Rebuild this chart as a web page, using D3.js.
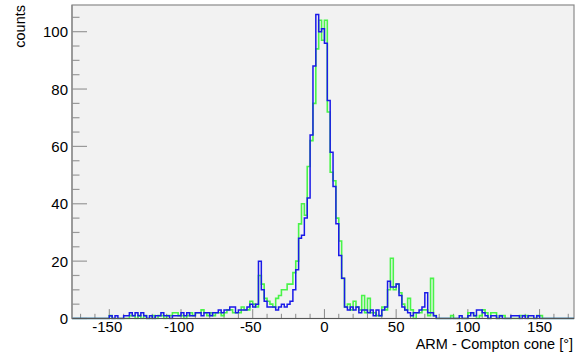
<!DOCTYPE html>
<html>
<head>
<meta charset="utf-8">
<script src="https://cdn.jsdelivr.net/npm/d3@7"></script>
<style>
  body { margin: 0; background: #fff; }
  svg text { font-family: "Liberation Sans", Arial, sans-serif; fill: #000; }
</style>
</head>
<body>
<script>
// ----- Data (2 degree bins, first bin starts at -176) -----
const binStart = -176;
const binWidth = 2;

const greenCounts = [
  0, 0, 0, 0, 0, 0, 0, 0, 0, 0, 0, 0,            // -176 .. -154
  0, 1, 0, 0, 0, 0, 0, 0, 1, 1, 0, 1,            // -152 .. -130
  0, 1, 0, 0, 1, 0, 1, 1, 0, 1, 1, 2,            // -128 .. -106
  2, 1, 1, 0, 1, 2, 1, 2, 2, 3, 2, 1,            // -104 .. -82
  2, 1, 2, 2, 1, 2, 3, 3, 2, 2, 2, 4,            // -80 .. -58
  3, 3, 6, 5, 4, 15, 12, 7, 6, 5, 4, 7,          // -56 .. -34
  8, 10, 10, 12, 12, 16, 20, 33, 40, 36, 53, 62, // -32 .. -10
  75, 94, 104, 97, 104, 72, 51, 48, 35, 27, 14, 4, // -8 .. 14
  5, 3, 6, 4, 3, 8, 2, 7, 2, 2, 1, 1,            // 16 .. 38
  4, 3, 10, 21, 10, 12, 9, 5, 3, 7, 3, 0,        // 40 .. 62
  2, 2, 3, 3, 1, 14, 1, 0, 0, 0, 0, 0,           // 64 .. 86
  1, 0, 0, 0, 0, 0, 2, 2, 1, 0, 1, 3,            // 88 .. 110
  2, 0, 2, 2, 0, 1, 1, 0, 0, 0, 0, 0,            // 112 .. 134
  1, 1, 1, 0, 0, 0, 1, 1, 0, 0, 0, 0,            // 136 .. 158
  0, 0, 0, 0, 0, 0, 0                            // 160 .. 172
];

const blueCounts = [
  0, 0, 0, 0, 0, 0, 0, 0, 0, 0, 0, 0,            // -176 .. -154
  0, 1, 0, 1, 0, 0, 1, 1, 2, 1, 2, 1,            // -152 .. -130
  2, 1, 0, 1, 0, 1, 1, 2, 1, 1, 0, 1,            // -128 .. -106
  1, 1, 2, 1, 2, 1, 1, 2, 2, 1, 2, 2,            // -104 .. -82
  1, 2, 2, 3, 2, 3, 3, 4, 4, 2, 3, 3,            // -80 .. -58
  3, 4, 5, 4, 5, 20, 10, 6, 4, 4, 4, 3,          // -56 .. -34
  4, 5, 4, 5, 6, 10, 17, 28, 29, 35, 42, 64,     // -32 .. -10
  88, 106, 100, 101, 96, 76, 58, 46, 33, 22, 14, 4, // -8 .. 14
  3, 4, 3, 4, 2, 3, 3, 2, 3, 1, 3, 1,            // 16 .. 38
  3, 4, 13, 11, 11, 12, 8, 4, 3, 2, 1, 2,        // 40 .. 62
  2, 3, 4, 9, 2, 2, 1, 0, 0, 0, 0, 0,            // 64 .. 86
  0, 0, 0, 1, 0, 0, 1, 2, 1, 3, 3, 2,            // 88 .. 110
  1, 0, 1, 1, 0, 1, 0, 0, 0, 1, 1, 1,            // 112 .. 134
  0, 1, 0, 1, 1, 0, 1, 0, 0, 0, 0, 0,            // 136 .. 158
  0, 0, 0, 0, 0, 0, 0                            // 160 .. 172
];

const xTicks = [-150, -100, -50, 0, 50, 100, 150];
const yTicks = [0, 20, 40, 60, 80, 100];
const xLabel = "ARM - Compton cone [°]";
const yLabel = "counts";

// ----- Layout -----
const W = 581, H = 353;
const frame = { left: 72, right: 574, top: 5, bottom: 318.5 };
const xDomain = [-176, 174];
const yDomain = [0, 109.3];

const svg = d3.select("body").append("svg")
  .attr("width", W)
  .attr("height", H);

const x = d3.scaleLinear().domain(xDomain).range([frame.left, frame.right]);
const y = d3.scaleLinear().domain(yDomain).range([frame.bottom, frame.top]);

// plot background
svg.append("rect")
  .attr("x", frame.left).attr("y", frame.top)
  .attr("width", frame.right - frame.left)
  .attr("height", frame.bottom - frame.top)
  .attr("fill", "#f2f2f2")
  .attr("stroke", "#8a8a8a")
  .attr("stroke-width", 1.2);

svg.append("clipPath").attr("id", "clip")
  .append("rect")
  .attr("x", frame.left).attr("y", frame.top - 2)
  .attr("width", frame.right - frame.left)
  .attr("height", frame.bottom - frame.top + 3);

// ticks - ROOT style, pointing into the frame
const xMinor = d3.range(-170, 171, 10);
svg.append("g").selectAll("line")
  .data(xMinor)
  .join("line")
  .attr("x1", d => x(d)).attr("x2", d => x(d))
  .attr("y1", frame.bottom)
  .attr("y2", d => frame.bottom - (d % 50 === 0 ? 9.4 : 4.7))
  .attr("stroke", "#888")
  .attr("stroke-width", 1);

const yMinor = d3.range(0, 106, 5);
svg.append("g").selectAll("line")
  .data(yMinor)
  .join("line")
  .attr("y1", d => y(d)).attr("y2", d => y(d))
  .attr("x1", frame.left)
  .attr("x2", d => frame.left + (d % 20 === 0 ? 15 : 7.5))
  .attr("stroke", "#999")
  .attr("stroke-width", 1.2);

// histograms
function histPath(counts) {
  const pts = counts.map((c, i) => [binStart + i * binWidth, c]);
  pts.push([binStart + counts.length * binWidth, counts[counts.length - 1]]);
  return d3.line()
    .x(d => x(d[0]))
    .y(d => y(d[1]))
    .curve(d3.curveStepAfter)(pts);
}

const plot = svg.append("g").attr("clip-path", "url(#clip)");

plot.append("path")
  .attr("d", histPath(greenCounts))
  .attr("fill", "none")
  .attr("stroke", "#2bf52b")
  .attr("stroke-opacity", 0.85)
  .attr("stroke-width", 1.6);

plot.append("path")
  .attr("d", histPath(blueCounts))
  .attr("fill", "none")
  .attr("stroke", "#1a1ae8")
  .attr("stroke-width", 1.5);

// axis lines
svg.append("line")
  .attr("x1", frame.left).attr("x2", frame.right)
  .attr("y1", frame.bottom).attr("y2", frame.bottom)
  .attr("stroke", "#555").attr("stroke-width", 1.2);
svg.append("line")
  .attr("x1", frame.left).attr("x2", frame.left)
  .attr("y1", frame.top).attr("y2", frame.bottom)
  .attr("stroke", "#888").attr("stroke-width", 1.2);

// tick labels
svg.append("g").selectAll("text")
  .data(xTicks)
  .join("text")
  .attr("x", d => x(d) - (d < 0 ? 2 : 0))
  .attr("y", 331.5)
  .attr("text-anchor", "middle")
  .style("font-size", "15px")
  .text(d => d);

svg.append("g").selectAll("text")
  .data(yTicks)
  .join("text")
  .attr("x", 68)
  .attr("y", d => y(d) + 5.5)
  .attr("text-anchor", "end")
  .style("font-size", "15px")
  .text(d => d);

// axis titles
svg.append("text")
  .attr("x", 573)
  .attr("y", 348.5)
  .attr("text-anchor", "end")
  .style("font-size", "14.5px")
  .text(xLabel);

svg.append("text")
  .attr("transform", "translate(25, 5) rotate(-90)")
  .attr("text-anchor", "end")
  .style("font-size", "14.5px")
  .text(yLabel);
</script>
</body>
</html>
